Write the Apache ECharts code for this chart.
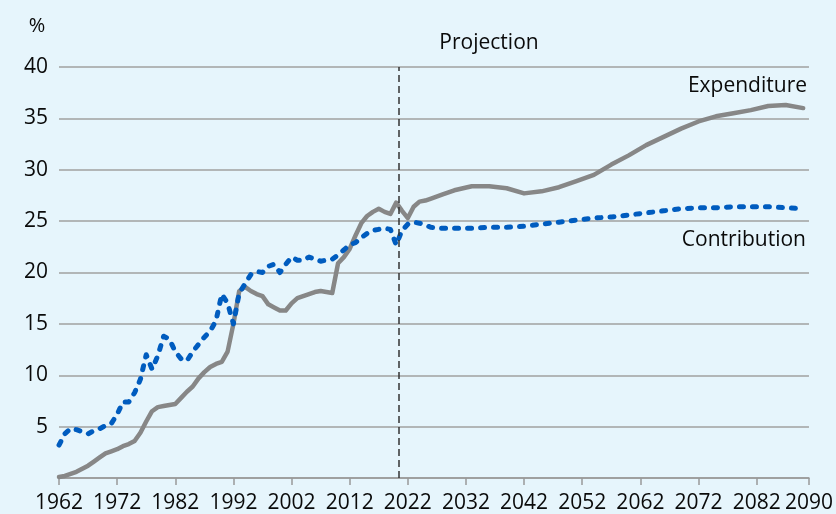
<!DOCTYPE html>
<html>
<head>
<meta charset="utf-8">
<title>Expenditure and Contribution</title>
<script src="https://cdn.jsdelivr.net/npm/echarts@6/dist/echarts.min.js"></script>
<style>
  html, body { margin: 0; padding: 0; background: #e6f5fc; }
  #chart { width: 836px; height: 514px; }
</style>
</head>
<body>
<div id="chart"></div>
<script>
// years: annual history, then every few years in the projection
const years = [
  1962, 1963, 1964, 1965, 1966, 1967, 1968, 1969, 1970, 1971,
  1972, 1973, 1974, 1975, 1976, 1977, 1978, 1979, 1980, 1981,
  1982, 1983, 1984, 1985, 1986, 1987, 1988, 1989, 1990, 1991,
  1992, 1993, 1994, 1995, 1996, 1997, 1998, 1999, 2000, 2001,
  2002, 2003, 2004, 2005, 2006, 2007, 2008, 2009, 2010, 2011,
  2012, 2013, 2014, 2015, 2016, 2017, 2018, 2019, 2020, 2021,
  2022, 2023, 2024, 2025, 2026, 2028, 2030, 2033, 2036, 2039,
  2042, 2045, 2048, 2051, 2054, 2057, 2060, 2063, 2066, 2069,
  2072, 2075, 2078, 2081, 2084, 2087, 2090
];

const expenditure = [
  0.1, 0.2, 0.4, 0.6, 0.9, 1.2, 1.6, 2.0, 2.4, 2.6,
  2.8, 3.1, 3.3, 3.6, 4.4, 5.5, 6.5, 6.9, 7.0, 7.1,
  7.2, 7.8, 8.4, 8.9, 9.7, 10.3, 10.8, 11.1, 11.3, 12.3,
  15.0, 18.2, 18.6, 18.2, 17.9, 17.7, 16.9, 16.6, 16.3, 16.3,
  17.0, 17.5, 17.7, 17.9, 18.1, 18.2, 18.1, 18.0, 20.9, 21.5,
  22.3, 23.6, 24.8, 25.5, 25.9, 26.2, 25.9, 25.7, 26.8, 26.0,
  25.3, 26.4, 26.9, 27.0, 27.2, 27.6, 28.0, 28.4, 28.4, 28.2,
  27.7, 27.9, 28.3, 28.9, 29.5, 30.5, 31.4, 32.4, 33.2, 34.0,
  34.7, 35.2, 35.5, 35.8, 36.2, 36.3, 36.0
];

const contribution = [
  3.2, 4.3, 4.8, 4.7, 4.5, 4.3, 4.6, 4.8, 5.1, 5.3,
  6.2, 7.4, 7.4, 8.3, 9.6, 12.0, 10.6, 11.9, 13.8, 13.5,
  12.3, 11.6, 11.4, 12.3, 13.0, 13.7, 14.3, 15.3, 17.9, 17.0,
  15.0, 18.0, 18.9, 19.8, 20.1, 20.0, 20.6, 20.8, 20.0, 20.8,
  21.5, 21.2, 21.2, 21.5, 21.3, 21.1, 21.2, 21.3, 21.7, 22.2,
  22.7, 22.9, 23.4, 23.8, 24.1, 24.2, 24.3, 24.2, 22.7, 24.1,
  24.7, 24.9, 24.8, 24.6, 24.4, 24.3, 24.3, 24.3, 24.4, 24.4,
  24.5, 24.7, 24.9, 25.1, 25.3, 25.4, 25.6, 25.8, 26.0, 26.2,
  26.3, 26.3, 26.4, 26.4, 26.4, 26.3, 26.2
];

const xTickValues = [1962, 1972, 1982, 1992, 2002, 2012, 2022, 2032, 2042, 2052, 2062, 2072, 2082, 2091];
const xTickLabels = ['1962', '1972', '1982', '1992', '2002', '2012', '2022', '2032', '2042', '2052', '2062', '2072', '2082', '2090'];
const projectionStart = 2020.5;

const font = '"Open Sans", "Noto Sans", sans-serif';
const textColor = '#0a0a0a';

const chart = echarts.init(document.getElementById('chart'));

chart.setOption({
  backgroundColor: '#e6f5fc',
  animation: false,
  grid: { left: 59, right: 27, top: 67, bottom: 34.5 },
  xAxis: {
    type: 'value',
    min: 1962,
    max: 2091,
    axisLine: { show: true, lineStyle: { color: '#999999', width: 1.5 } },
    axisTick: {
      show: true,
      customValues: xTickValues,
      length: 7,
      lineStyle: { color: '#999999', width: 1.5 }
    },
    axisLabel: {
      customValues: xTickValues,
      margin: 15,
      color: textColor,
      fontSize: 21,
      fontFamily: font,
      formatter: (v) => {
        const i = xTickValues.indexOf(v);
        return i >= 0 ? xTickLabels[i] : '';
      }
    },
    splitLine: { show: false }
  },
  yAxis: {
    type: 'value',
    min: 0,
    max: 40,
    interval: 5,
    axisLine: { show: false },
    axisTick: { show: false },
    axisLabel: {
      margin: 11,
      color: textColor,
      fontSize: 21,
      fontFamily: font,
      formatter: (v) => (v === 0 ? '' : String(v))
    },
    splitLine: { lineStyle: { color: '#a0a0a0', width: 1.5 } }
  },
  graphic: [
    { type: 'text', x: 37, y: 26, style: { text: '%', fontSize: 20, fontFamily: font, fill: textColor, align: 'center', verticalAlign: 'middle' } },
    { type: 'text', x: 489, y: 43, style: { text: 'Projection', fontSize: 21, fontFamily: font, fill: textColor, align: 'center', verticalAlign: 'middle' } },
    { type: 'text', x: 807, y: 86, style: { text: 'Expenditure', fontSize: 21, fontFamily: font, fill: textColor, align: 'right', verticalAlign: 'middle' } },
    { type: 'text', x: 806, y: 240, style: { text: 'Contribution', fontSize: 21, fontFamily: font, fill: textColor, align: 'right', verticalAlign: 'middle' } }
  ],
  series: [
    {
      name: 'Expenditure',
      type: 'line',
      data: years.map((y, i) => [y, expenditure[i]]),
      showSymbol: false,
      lineStyle: { color: '#878787', width: 4.5, cap: 'round', join: 'round' },
      z: 2,
      markLine: {
        silent: true,
        symbol: 'none',
        label: { show: false },
        lineStyle: { color: '#333333', width: 1.5, type: [7, 4] },
        data: [{ xAxis: projectionStart }]
      }
    },
    {
      name: 'Contribution',
      type: 'line',
      data: years.map((y, i) => [y, contribution[i]]),
      showSymbol: false,
      lineStyle: { color: '#005cbf', width: 5, type: [4, 9], cap: 'round', join: 'round' },
      z: 3
    }
  ]
});
</script>
</body>
</html>
